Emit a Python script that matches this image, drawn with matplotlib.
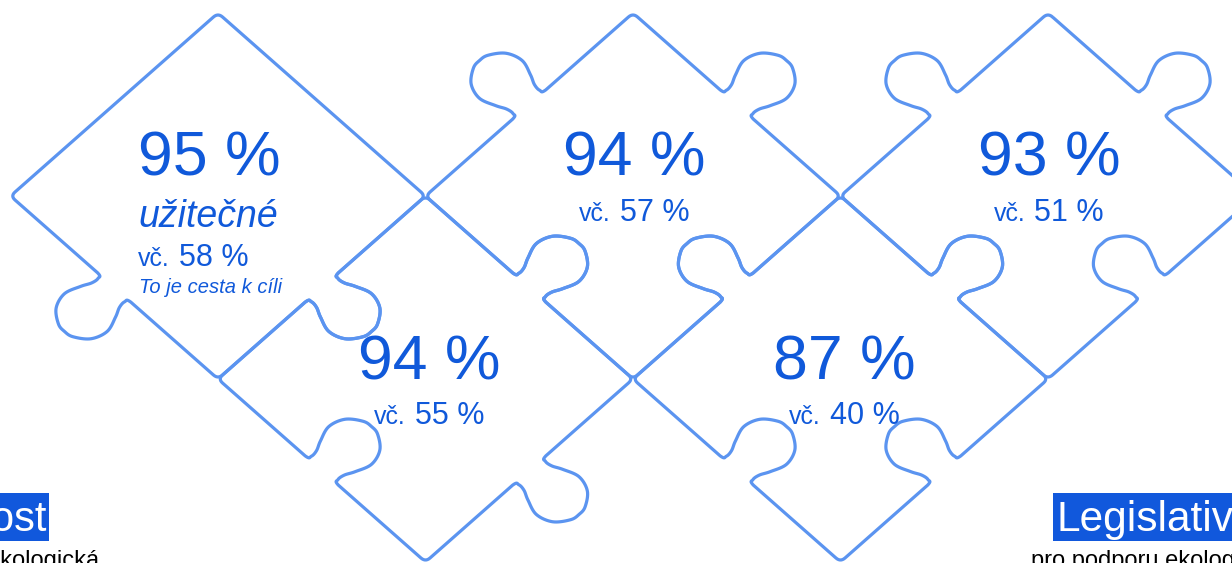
import numpy as np
import matplotlib
matplotlib.use("Agg")
import matplotlib.pyplot as plt
from matplotlib.patches import Polygon, Rectangle

plt.rcParams['font.family'] = ['Liberation Sans', 'DejaVu Sans']

# data
main_values = [95, 94, 93, 94, 87]
sub_values = [58, 57, 51, 55, 40]
# slot of each piece: (column in half-widths, row)
piece_slots = [(0, 0), (2, 0), (4, 0), (1, 1), (3, 1)]
# edges clockwise: upper-right, lower-right, lower-left, upper-left
# 0 = straight, 1 = tab out, -1 = blank in
piece_edges = [
    (0, 1, 1, 0),
    (1, -1, -1, 1),
    (1, -1, -1, 1),
    (1, 1, -1, -1),
    (1, -1, -1, 1),
]
highlight_word = "užitečné"
highlight_note = "To je cesta k cíli"
left_tag, left_tag_sub = "Udržitelnost", "ekologická"
right_tag, right_tag_sub = "Legislativa", "pro podporu ekologie"

LINE = '#5B94F0'
TEXT = '#1059DA'
BOX = '#1158DC'

X0, Y0 = 218, 196      # centre of the first piece
W, H = 207.5, 183      # half width / half height of a piece
RC = 0.022             # corner rounding (fraction of edge)


def catmull_rom(pts, n=10):
    pts = np.asarray(pts, dtype=float)
    out = []
    t = np.linspace(0, 1, n, endpoint=False)[:, None]
    for i in range(1, len(pts) - 2):
        p0, p1, p2, p3 = pts[i - 1:i + 3]
        out.append(0.5 * (2 * p1 + (-p0 + p2) * t
                          + (2 * p0 - 5 * p1 + 4 * p2 - p3) * t ** 2
                          + (-p0 + 3 * p1 - 3 * p2 + p3) * t ** 3))
    out.append(pts[-2][None])
    return np.vstack(out)


# knob shape along an edge (t along, d outward, both relative to edge length)
half = [(0.30, 0), (0.42, 0), (0.436, 0.014), (0.433, 0.042), (0.416, 0.078),
        (0.397, 0.137), (0.416, 0.196), (0.465, 0.234)]
knob_pts = half + [(0.5, 0.24)] + [(1 - a, b) for a, b in reversed(half)]
KNOB = catmull_rom(knob_pts)


def edge_points(p0, p1, kind):
    p0, p1 = np.array(p0, float), np.array(p1, float)
    v = p1 - p0
    n = np.array([v[1], -v[0]])
    td = [(RC, 0.0)]
    if kind:
        td += [(a, b * kind) for a, b in KNOB]
    td += [(1 - RC, 0.0)]
    td = np.array(td)
    return p0 + td[:, :1] * v + td[:, 1:] * n


def piece_outline(edges):
    verts = [(0, -1), (1, 0), (0, 1), (-1, 0)]
    pts = []
    for i, kind in enumerate(edges):
        a, b = verts[i], verts[(i + 1) % 4]
        pts.append(edge_points(a, b, kind))
        # rounded corner at b
        c = verts[(i + 2) % 4]
        b_arr = np.array(b, float)
        s0 = b_arr - RC * (b_arr - np.array(a, float))
        s1 = b_arr + RC * (np.array(c, float) - b_arr)
        s = np.linspace(0, 1, 8)[1:-1, None]
        pts.append((1 - s) ** 2 * s0 + 2 * s * (1 - s) * b_arr + s ** 2 * s1)
    return np.vstack(pts)


fig = plt.figure(figsize=(12.32, 5.63), dpi=100)
ax = fig.add_axes([0, 0, 1, 1])
ax.set_xlim(0, 1232)
ax.set_ylim(563, 0)
ax.axis('off')

for (col, row), edges in zip(piece_slots, piece_edges):
    cx, cy = X0 + col * W, Y0 + row * H
    shape = piece_outline(edges)
    xy = np.column_stack([cx + W * shape[:, 0], cy + H * shape[:, 1]])
    ax.add_patch(Polygon(xy, closed=True, fill=False, ec=LINE, lw=2.3,
                         joinstyle='round'))

# texts in pieces
for i, ((col, row), val, sub) in enumerate(zip(piece_slots, main_values, sub_values)):
    cx, cy = X0 + col * W, Y0 + row * H
    if i == 0:
        lx = 138
        ax.text(lx, 176, f"{val} %", fontsize=45, color=TEXT, va='baseline', ha='left')
        ax.text(lx, 227, highlight_word, fontsize=27, style='italic', color=TEXT,
                va='baseline', ha='left')
        ax.text(lx, 266, "vč.", fontsize=18, color=TEXT, va='baseline', ha='left')
        ax.text(lx + 41, 266, f"{sub} %", fontsize=22, color=TEXT, va='baseline', ha='left')
        ax.text(lx + 1, 293, highlight_note, fontsize=14.5, style='italic', color=TEXT,
                va='baseline', ha='left')
        continue
    tx = cx + (4 if row else 1)
    base = cy - 20 if row == 0 else cy
    ax.text(tx, base, f"{val} %", fontsize=45, color=TEXT, va='baseline', ha='center')
    ax.text(tx - 23.5, base + 45, "vč.", fontsize=18, color=TEXT, va='baseline', ha='right')
    ax.text(tx - 14.5, base + 45, f"{sub} %", fontsize=22, color=TEXT, va='baseline', ha='left')

# bottom tags (cut by the figure edge as in the source)
ax.add_patch(Rectangle((-300, 493), 349, 48, color=BOX, lw=0))
ax.text(47, 531, left_tag, fontsize=30, color='white', va='baseline', ha='right')
ax.text(-13, 567, left_tag_sub, fontsize=17, color='black', va='baseline', ha='left')

ax.add_patch(Rectangle((1053, 493), 300, 48, color=BOX, lw=0))
ax.text(1056, 531, right_tag, fontsize=30.5, color='white', va='baseline', ha='left')
ax.text(1031, 567, right_tag_sub, fontsize=17, color='black', va='baseline', ha='left')

fig.savefig('out.png', dpi=100)
